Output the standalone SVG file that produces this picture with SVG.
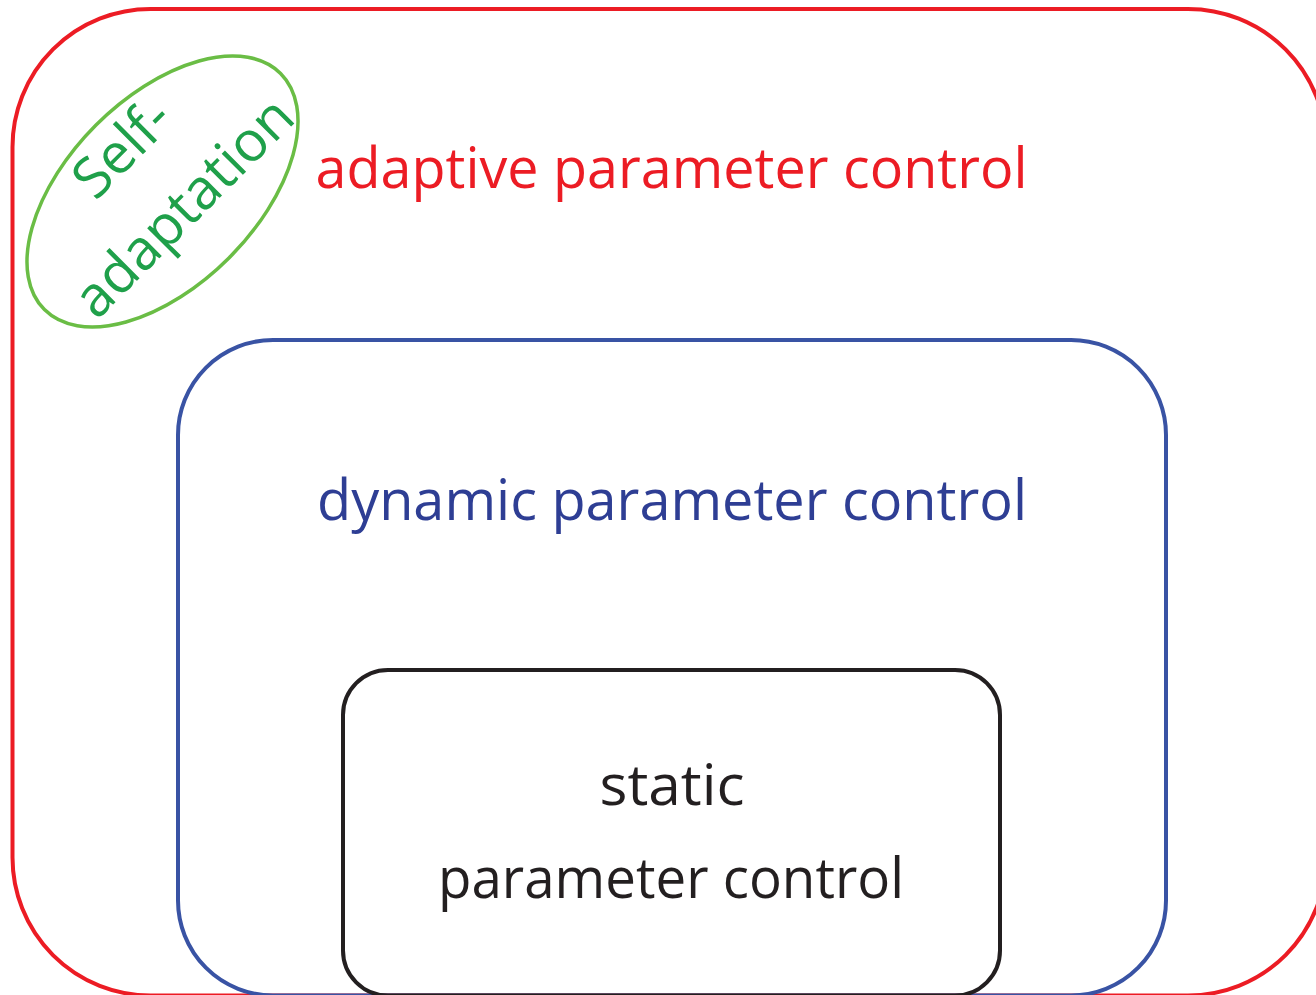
<svg xmlns="http://www.w3.org/2000/svg" width="1316" height="995" viewBox="0 0 1316 995">
  <style>
    .frame { fill: none; stroke-width: 4; }
    .label { font-family: "Open Sans", "Liberation Sans", sans-serif; font-size: 56px; text-anchor: middle; }
  </style>
  <rect width="1316" height="995" fill="#ffffff"/>

  <!-- nested scopes of parameter control -->
  <g id="adaptive">
    <rect class="frame" x="12.5" y="9" width="1313.5" height="986.5" rx="138" ry="138" stroke="#ec1c24"/>
    <text class="label" x="671.5" y="188" fill="#ec1c24" textLength="712" lengthAdjust="spacingAndGlyphs">adaptive parameter control</text>
  </g>

  <g id="dynamic">
    <rect class="frame" x="178" y="340" width="988" height="655.5" rx="95" ry="95" stroke="#3953a4"/>
    <text class="label" x="672" y="520" fill="#2e3e94" textLength="710" lengthAdjust="spacingAndGlyphs">dynamic parameter control</text>
  </g>

  <g id="static">
    <rect class="frame" x="343" y="670" width="657" height="325.5" rx="45" ry="45" stroke="#231f20"/>
    <text class="label" x="672" y="805" fill="#231f20" textLength="145" lengthAdjust="spacingAndGlyphs">static</text>
    <text class="label" x="671" y="898" fill="#231f20" textLength="466" lengthAdjust="spacingAndGlyphs">parameter control</text>
  </g>

  <!-- self-adaptation: tilted ellipse with rotated two-line label -->
  <g id="self-adaptation" transform="translate(162.5 191.5) rotate(-45)">
    <ellipse cx="0" cy="0" rx="167" ry="94" fill="none" stroke="#6abd45" stroke-width="3.5"/>
    <text class="label" x="2" y="-40" fill="#1fa04a" font-size="58">Self-</text>
    <text class="label" x="4" y="45" fill="#1fa04a" font-size="58">adaptation</text>
  </g>

  <g id="connectors"/>
</svg>
